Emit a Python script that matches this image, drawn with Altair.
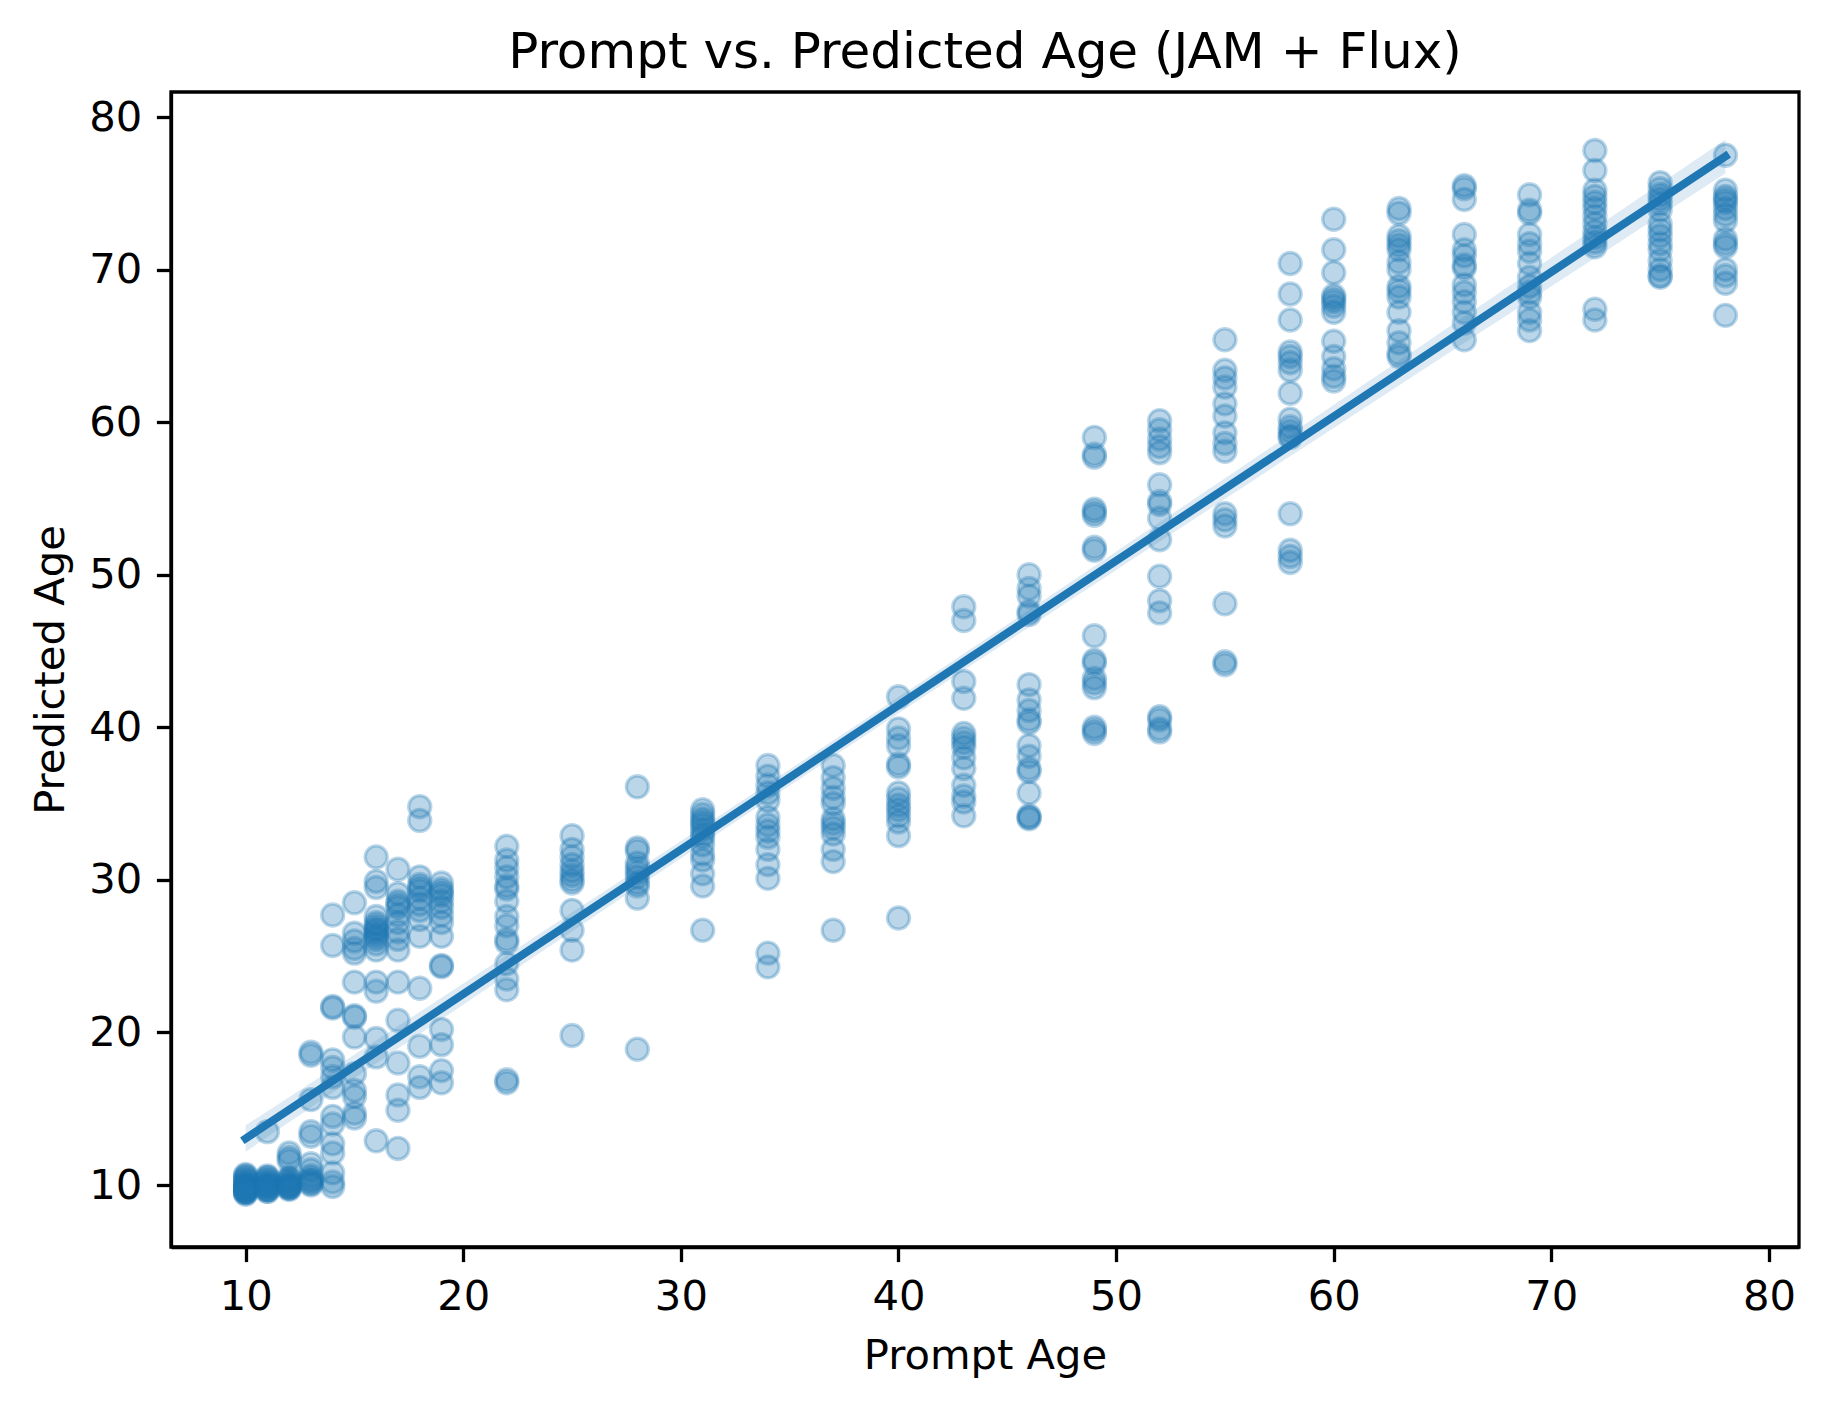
import altair as alt
import numpy as np
import pandas as pd

# ---- data ----
TITLE = "Prompt vs. Predicted Age (JAM + Flux)"
PROMPT_AGES = [10, 11, 12, 13, 14, 15, 16, 17, 18, 19, 22, 25, 28, 31, 34, 37, 40,
               43, 46, 49, 52, 55, 58, 60, 63, 66, 69, 72, 75, 78]

PRED_10 = [10.7, 10.6, 10.5, 10.4, 10.3, 10.2, 10.1, 10.0, 10.0, 9.9, 9.9, 9.8, 9.8, 9.7, 9.7,
           9.6, 9.6, 9.6, 9.5, 9.5, 9.4]
PRED_11 = [13.5, 10.6, 10.5, 10.4, 10.3, 10.2, 10.1, 10.0, 10.0, 9.9, 9.9, 9.8, 9.7, 9.7, 9.6,
           9.6]
PRED_12 = [12.1, 11.8, 11.6, 10.5, 10.4, 10.3, 10.2, 10.1, 10.0, 10.0, 9.9, 9.9, 9.8, 9.8, 9.7]
PRED_13 = [18.7, 18.5, 15.6, 13.5, 13.2, 11.4, 11.0, 10.6, 10.4, 10.3, 10.2, 10.1, 10.0]
PRED_14 = [27.7, 25.7, 21.7, 21.6, 18.2, 17.7, 17.1, 16.4, 14.5, 14.0, 12.7, 12.1, 10.8, 10.2, 9.9]
PRED_15 = [28.5, 26.5, 26.0, 25.5, 25.2, 23.3, 21.1, 21.0, 19.7, 17.3, 16.2, 15.8, 14.7, 14.4]
PRED_16 = [31.5, 29.9, 29.5, 27.6, 27.2, 27.0, 26.8, 26.7, 26.5, 26.3, 26.1, 25.8, 25.4, 23.3,
           22.7, 19.6, 18.4, 12.9]
PRED_17 = [30.7, 29.1, 28.6, 28.4, 28.2, 27.7, 27.2, 26.6, 26.1, 25.4, 23.3, 20.8, 18.0, 15.9,
           14.9, 12.4]
PRED_18 = [34.8, 33.9, 30.2, 29.7, 29.5, 29.3, 28.8, 28.4, 28.0, 27.4, 26.3, 22.9, 19.1, 17.1,
           16.4]
PRED_19 = [29.8, 29.4, 29.2, 29.0, 28.6, 28.2, 27.7, 27.2, 26.3, 24.4, 24.3, 20.2, 19.2, 17.5,
           16.7]
PRED_22 = [32.2, 31.3, 30.8, 30.2, 29.6, 29.4, 28.6, 27.6, 27.0, 26.1, 25.9, 24.5, 23.5, 22.8,
           16.9, 16.7]
PRED_25 = [32.9, 32.0, 31.5, 31.0, 30.6, 30.3, 30.0, 29.8, 28.0, 26.7, 25.4, 19.8]
PRED_28 = [36.1, 32.1, 31.9, 31.1, 30.8, 30.5, 30.2, 29.8, 29.6, 28.8, 18.9]
PRED_31 = [34.6, 34.3, 34.0, 33.8, 33.6, 33.3, 33.0, 32.8, 32.3, 31.7, 31.3, 30.4, 29.6, 26.7]
PRED_34 = [37.5, 36.8, 36.2, 35.7, 35.2, 34.1, 33.6, 33.2, 32.8, 32.0, 31.0, 30.1, 25.2, 24.3]
PRED_37 = [37.5, 36.7, 36.0, 35.4, 35.0, 34.0, 33.7, 33.4, 33.0, 32.0, 31.2, 26.7]
PRED_40 = [42.0, 39.9, 39.3, 38.8, 37.6, 37.4, 35.7, 35.3, 34.9, 34.6, 34.2, 33.8, 32.9, 27.5]
PRED_43 = [47.9, 47.0, 43.0, 41.9, 39.6, 39.3, 39.0, 38.7, 38.0, 37.3, 36.2, 35.5, 35.1, 34.2]
PRED_46 = [50.0, 49.1, 48.6, 47.6, 47.4, 42.8, 41.8, 41.1, 40.5, 40.3, 38.8, 38.1, 37.3, 37.1,
           35.7, 34.2, 34.1, 34.0]
PRED_49 = [59.0, 57.9, 57.7, 54.3, 54.1, 53.9, 51.8, 51.6, 46.0, 44.4, 44.2, 43.2, 42.9, 42.6,
           40.0, 39.8, 39.6]
PRED_52 = [60.1, 59.5, 58.9, 58.4, 58.0, 55.9, 54.8, 54.6, 53.7, 52.3, 49.9, 48.3, 47.5, 40.7,
           40.5, 39.9, 39.7]
PRED_55 = [65.4, 63.4, 62.9, 62.3, 61.2, 60.4, 59.3, 58.6, 58.1, 54.0, 53.6, 53.2, 48.1, 44.3, 44.1]
PRED_58 = [70.4, 68.4, 66.7, 64.6, 64.3, 63.9, 63.4, 61.9, 60.2, 59.7, 59.4, 59.1, 59.0, 54.0,
           51.6, 51.2, 50.8]
PRED_60 = [73.3, 71.3, 69.8, 68.3, 68.1, 67.9, 67.6, 67.2, 65.3, 64.3, 63.5, 63.0, 62.7]
PRED_63 = [74.0, 73.7, 72.2, 71.9, 71.6, 71.3, 70.5, 70.0, 68.9, 68.6, 68.2, 67.2, 66.0, 65.2,
           64.5, 64.3]
PRED_66 = [75.5, 75.3, 74.6, 72.3, 71.3, 70.9, 70.3, 70.1, 69.0, 68.5, 67.9, 67.2, 66.5, 65.4]
PRED_69 = [74.9, 73.9, 73.7, 72.3, 71.7, 71.2, 70.4, 69.5, 68.9, 68.5, 68.2, 67.2, 66.7, 66.0]
PRED_72 = [77.8, 76.5, 75.2, 74.8, 74.4, 74.0, 73.5, 73.0, 72.5, 72.1, 71.8, 71.5, 67.4, 66.7]
PRED_75 = [75.7, 75.3, 74.9, 74.6, 74.3, 73.9, 73.0, 72.6, 72.2, 71.7, 71.3, 70.6, 70.0, 69.6,
           69.5]
PRED_78 = [77.5, 75.2, 74.8, 74.6, 74.4, 74.0, 73.6, 73.2, 72.0, 71.7, 71.5, 70.0, 69.6, 69.1,
           67.0]

PREDICTED = [PRED_10, PRED_11, PRED_12, PRED_13, PRED_14, PRED_15, PRED_16, PRED_17, PRED_18,
             PRED_19, PRED_22, PRED_25, PRED_28, PRED_31, PRED_34, PRED_37, PRED_40, PRED_43,
             PRED_46, PRED_49, PRED_52, PRED_55, PRED_58, PRED_60, PRED_63, PRED_66, PRED_69,
             PRED_72, PRED_75, PRED_78]

X_TICKS = [10, 20, 30, 40, 50, 60, 70, 80]
Y_TICKS = [10, 20, 30, 40, 50, 60, 70, 80]

rows = [(p, v) for p, vals in zip(PROMPT_AGES, PREDICTED) for v in vals]
df = pd.DataFrame(rows, columns=["prompt", "pred"])

# 95% confidence band of the OLS fit, derived from the data
x = df["prompt"].to_numpy(float)
y = df["pred"].to_numpy(float)
n = len(x)
slope, intercept = np.polyfit(x, y, 1)
resid = y - (intercept + slope * x)
s = np.sqrt(np.sum(resid ** 2) / (n - 2))
xbar = x.mean()
sxx = np.sum((x - xbar) ** 2)
grid = np.linspace(x.min(), x.max(), 100)
se = s * np.sqrt(1.0 / n + (grid - xbar) ** 2 / sxx)
fit = intercept + slope * grid
band = pd.DataFrame({"prompt": grid, "lo": fit - 1.966 * se, "hi": fit + 1.966 * se})

C0 = "#1f77b4"
FONT = "DejaVu Sans"
W, H = 1628, 1155
xscale = alt.Scale(domain=[6.57, 81.38], nice=False, zero=False)
yscale = alt.Scale(domain=[5.94, 81.64], nice=False, zero=False)

axis_common = dict(
    grid=False, domainColor="black", domainWidth=3.3, tickColor="black",
    tickWidth=3.3, tickSize=14.6, labelFont=FONT, labelFontSize=41.7,
    labelColor="black", labelPadding=14.6, titleFont=FONT, titleFontSize=41.7,
    titleFontWeight="normal", titleColor="black", labelFlush=False,
)

xaxis = alt.Axis(values=X_TICKS, title="Prompt Age", titlePadding=18, **axis_common)
yaxis = alt.Axis(values=Y_TICKS, title="Predicted Age", titlePadding=16, **axis_common)

points = alt.Chart(df).mark_circle(
    size=490, color=C0, opacity=1, fillOpacity=0.3, stroke=C0,
    strokeOpacity=0.3, strokeWidth=3.3,
).encode(
    x=alt.X("prompt:Q", scale=xscale, axis=xaxis),
    y=alt.Y("pred:Q", scale=yscale, axis=yaxis),
)

ci = alt.Chart(band).mark_area(color=C0, opacity=0.15).encode(
    x=alt.X("prompt:Q", scale=xscale),
    y=alt.Y("lo:Q", scale=yscale),
    y2="hi:Q",
)

line = alt.Chart(df).transform_regression("prompt", "pred").mark_line(
    color=C0, strokeWidth=8, strokeCap="square",
).encode(
    x=alt.X("prompt:Q", scale=xscale),
    y=alt.Y("pred:Q", scale=yscale),
)

title = alt.Chart(pd.DataFrame({"t": [TITLE]})).mark_text(
    font=FONT, fontSize=50, color="black", align="center", baseline="alphabetic",
).encode(
    text="t:N",
    x=alt.value(W / 2),
    y=alt.value(-24),
)

chart = alt.layer(points, ci, line, title).properties(
    width=W, height=H,
    autosize=alt.AutoSizeParams(type="none"),
    padding={"left": 163, "top": 84, "right": 21, "bottom": 152},
    background="white",
).configure_view(stroke="black", strokeWidth=3.3)

chart.save("out.html", embed_options={"renderer": "svg", "actions": False})
